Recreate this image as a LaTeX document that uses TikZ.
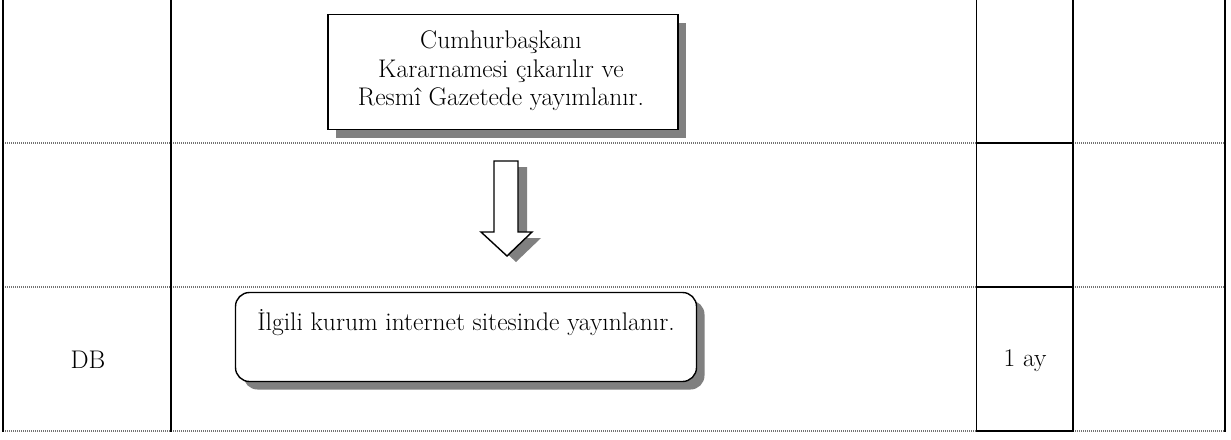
\documentclass[tikz,border=0pt]{standalone}
\usetikzlibrary{shadows}
\begin{document}
\begin{tikzpicture}[x=1pt,y=-1pt,
  grid/.style={line width=1.2pt,black},
  dotline/.style={line width=1.1pt,black!55,dash pattern=on 1.2pt off 0.8pt},
  shadowed/.style={drop shadow={shadow xshift=8pt,shadow yshift=-8pt,fill=black!50,opacity=1}},
  boxA/.style={draw,line width=1.6pt,fill=white,shadowed,minimum width=350pt,minimum height=115pt,inner sep=0pt},
  boxB/.style={draw,line width=1.4pt,fill=white,rounded corners=14pt,shadowed,minimum width=461pt,minimum height=89pt,inner sep=0pt},
  txt/.style={font=\fontsize{25.5}{28.5}\selectfont,align=center,inner sep=0pt}]
\useasboundingbox (0,0) rectangle (1231,439);
% table
\foreach \y in {143,287,431}{
  \draw[dotline] (3,\y) -- (976.7,\y);
  \draw[dotline] (1073,\y) -- (1225,\y);
  \draw[grid] (976.7,\y) -- (1073,\y);
}
\foreach \x in {3,171,976.7,1073,1225}{
  \draw[grid] (\x,0) -- (\x,431.5);
}
% top box
\node[boxA] (top) at (503,72) {};
\node[txt] (toptext) at (501,71) {Cumhurbaşkanı\\Kararnamesi çıkarılır ve\\Resmî Gazetede yayımlanır.};
% block arrow
\fill[black!50] (503,167) -- (527,167) -- (527,238) -- (541,238) -- (516,262) -- (490,238) -- (503,238) -- cycle;
\draw[line width=1.4pt,fill=white,line join=miter] (494,161) -- (518,161) -- (518,232) -- (532,232) -- (507,256) -- (481,232) -- (494,232) -- cycle;
% bottom box
\node[boxB] (bot) at (466,337) {};
\node[txt,anchor=base] (bottext) at (466,330) {İlgili kurum internet sitesinde yayınlanır.};
% cells
\node[txt] (db) at (88,360) {DB};
\node[txt] (ay) at (1025,361) {1 ay};
\end{tikzpicture}
\end{document}
